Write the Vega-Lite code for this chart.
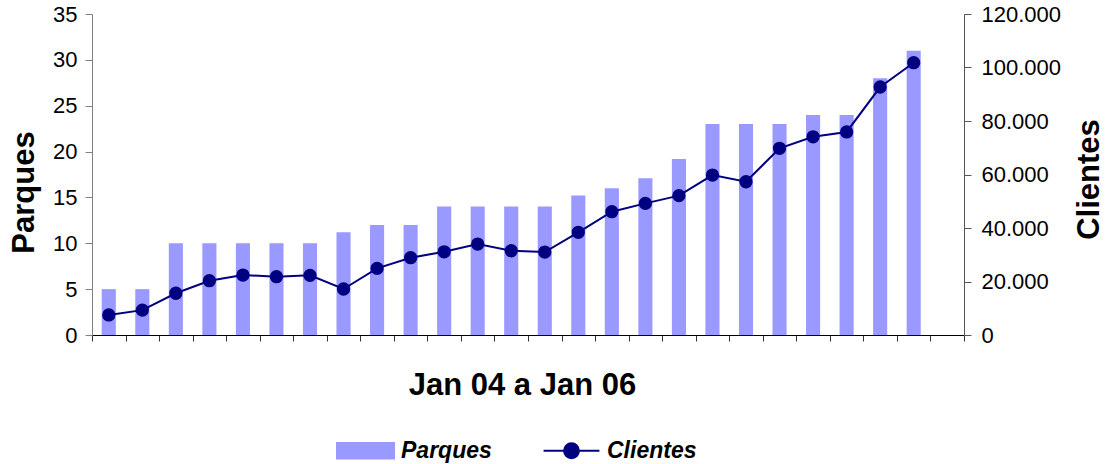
{
  "$schema": "https://vega.github.io/schema/vega-lite/v6.json",
  "autosize": {"type": "none"},
  "padding": {"left": 92, "top": 14, "right": 141, "bottom": 129},
  "width": 872,
  "height": 321,
  "background": "white",
  "config": {
    "font": "Liberation Sans",
    "view": {"stroke": null},
    "axis": {"grid": false, "labelColor": "black", "titleColor": "black", "labelFont": "Liberation Sans", "titleFont": "Liberation Sans"},
    "legend": {"labelFont": "Liberation Sans"}
  },
  "data": {
    "values": [
      {"mes": "Jan 04", "Parques": 5, "Clientes": 7500},
      {"mes": "Fev 04", "Parques": 5, "Clientes": 9300},
      {"mes": "Mar 04", "Parques": 10, "Clientes": 15600},
      {"mes": "Abr 04", "Parques": 10, "Clientes": 20300},
      {"mes": "Mai 04", "Parques": 10, "Clientes": 22400},
      {"mes": "Jun 04", "Parques": 10, "Clientes": 21800},
      {"mes": "Jul 04", "Parques": 10, "Clientes": 22300},
      {"mes": "Ago 04", "Parques": 11.2, "Clientes": 17200},
      {"mes": "Set 04", "Parques": 12, "Clientes": 24900},
      {"mes": "Out 04", "Parques": 12, "Clientes": 28900},
      {"mes": "Nov 04", "Parques": 14, "Clientes": 31100},
      {"mes": "Dez 04", "Parques": 14, "Clientes": 34000},
      {"mes": "Jan 05", "Parques": 14, "Clientes": 31500},
      {"mes": "Fev 05", "Parques": 14, "Clientes": 31000},
      {"mes": "Mar 05", "Parques": 15.2, "Clientes": 38400},
      {"mes": "Abr 05", "Parques": 16, "Clientes": 46100},
      {"mes": "Mai 05", "Parques": 17.1, "Clientes": 49200},
      {"mes": "Jun 05", "Parques": 19.2, "Clientes": 52100},
      {"mes": "Jul 05", "Parques": 23, "Clientes": 59800},
      {"mes": "Ago 05", "Parques": 23, "Clientes": 57300},
      {"mes": "Set 05", "Parques": 23, "Clientes": 69800},
      {"mes": "Out 05", "Parques": 24, "Clientes": 74100},
      {"mes": "Nov 05", "Parques": 24, "Clientes": 75900},
      {"mes": "Dez 05", "Parques": 28, "Clientes": 92700},
      {"mes": "Jan 06", "Parques": 31, "Clientes": 101800}
    ]
  },
  "encoding": {
    "x": {
      "field": "mes",
      "type": "nominal",
      "sort": null,
      "scale": {
        "domain": ["Jan 04","Fev 04","Mar 04","Abr 04","Mai 04","Jun 04","Jul 04","Ago 04","Set 04","Out 04","Nov 04","Dez 04","Jan 05","Fev 05","Mar 05","Abr 05","Mai 05","Jun 05","Jul 05","Ago 05","Set 05","Out 05","Nov 05","Dez 05","Jan 06","Fev 06"],
        "paddingInner": 0,
        "paddingOuter": 0
      },
      "axis": {
        "labels": false,
        "tickBand": "extent",
        "tickSize": 6,
        "tickColor": "#333333",
        "domainColor": "black",
        "title": "Jan 04 a Jan 06",
        "titleFontSize": 31,
        "titleFontWeight": "bold",
        "titlePadding": 29,
        "titleX": 430
      }
    }
  },
  "layer": [
    {
      "mark": {"type": "bar", "color": "#9999FF", "width": {"band": 0.42}},
      "encoding": {
        "y": {
          "field": "Parques",
          "type": "quantitative",
          "scale": {"domain": [0, 35], "nice": false},
          "axis": {
            "title": "Parques",
            "values": [0, 5, 10, 15, 20, 25, 30, 35],
            "tickSize": 7,
            "labelPadding": 8,
            "labelFontSize": 22,
            "titleFontSize": 31,
            "titleFontWeight": "bold",
            "titlePadding": 12,
            "titleY": 178,
            "domainColor": "#808080",
            "tickColor": "#808080"
          }
        },
        "color": {
          "datum": "Parques",
          "scale": {"domain": ["Parques", "Clientes"], "range": ["#9999FF", "#000080"]},
          "legend": {
            "orient": "none",
            "legendX": 244,
            "legendY": 407,
            "direction": "horizontal",
            "title": null,
            "labelFontSize": 23,
            "labelFontWeight": "bold",
            "labelFontStyle": "italic",
            "labelColor": "black",
            "symbolSize": 3249,
            "labelOffset": 6,
            "columnPadding": 47,
            "encode": {
              "symbols": {
                "update": {
                  "shape": {"signal": "datum.value === 'Parques' ? 'M-1,-0.27H1V0.27H-1Z' : 'M-0.98,0H0.98M0.26,0A0.26,0.26 0 1 1 -0.26,0A0.26,0.26 0 1 1 0.26,0Z'"},
                  "fill": {"signal": "datum.value === 'Parques' ? '#9999FF' : '#000080'"},
                  "stroke": {"signal": "datum.value === 'Parques' ? 'transparent' : '#000080'"},
                  "strokeWidth": {"value": 2},
                  "opacity": {"value": 1},
                  "fillOpacity": {"value": 1},
                  "size": {"value": 3249}
                }
              }
            }
          }
        }
      }
    },
    {
      "mark": {"type": "line", "strokeWidth": 2, "point": {"filled": true, "size": 177}},
      "encoding": {
        "y": {
          "field": "Clientes",
          "type": "quantitative",
          "scale": {"domain": [0, 120000], "nice": false},
          "axis": {
            "orient": "right",
            "title": "Clientes",
            "values": [0, 20000, 40000, 60000, 80000, 100000, 120000],
            "labelExpr": "replace(format(datum.value, ','), ',', '.')",
            "tickSize": 7,
            "labelPadding": 10,
            "labelFontSize": 22,
            "titleFontSize": 31,
            "titleFontWeight": "bold",
            "titleAngle": 270,
            "titlePadding": 45,
            "titleY": 165,
            "domainColor": "#555555",
            "tickColor": "#555555"
          }
        },
        "color": {"datum": "Clientes"}
      }
    }
  ],
  "resolve": {"scale": {"y": "independent"}}
}
